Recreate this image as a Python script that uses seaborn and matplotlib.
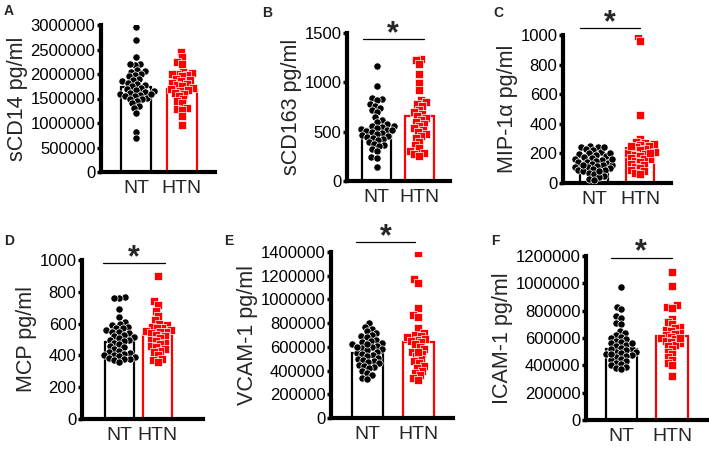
import numpy as np
import pandas as pd
import matplotlib
matplotlib.use("Agg")
import matplotlib.pyplot as plt
import seaborn as sns

sns.set_style("white")
plt.rcParams['font.family'] = ['Liberation Sans', 'DejaVu Sans']

groups = ["NT", "HTN"]
RED = "#ff0000"

# ---------------- data ----------------
a_nt = [2960000, 2700000, 2350000, 2200000, 2180000, 2200000, 2080000, 2050000, 2060000, 2000000,
        1980000, 1950000, 1900000, 1880000, 1850000, 1820000, 1800000, 1780000, 1750000, 1720000,
        1700000, 1680000, 1650000, 1640000, 1620000, 1600000, 1580000, 1560000, 1550000, 1520000,
        1500000, 1480000, 1450000, 1400000, 1350000, 1300000, 1200000, 820000, 700000, 1600000]
a_htn = [2450000, 2350000, 2250000, 2200000, 2050000, 2020000, 2000000, 2000000, 1980000, 1950000,
         1900000, 1880000, 1850000, 1820000, 1800000, 1780000, 1750000, 1720000, 1700000, 1680000,
         1650000, 1620000, 1600000, 1550000, 1500000, 1450000, 1400000, 1300000, 1280000, 1270000,
         1150000, 950000]
a_mean = [1730000, 1690000]

b_nt = [1170, 960, 840, 830, 820, 780, 760, 740, 720, 700, 650, 620, 600, 580, 560, 560, 550, 540,
        530, 520, 520, 510, 500, 490, 480, 470, 460, 450, 440, 430, 420, 400, 380, 360, 350, 320,
        300, 240, 230, 145]
b_htn = [1240, 1230, 1190, 1080, 990, 920, 820, 800, 780, 760, 720, 700, 680, 660, 640, 620, 600,
         580, 560, 540, 520, 500, 480, 460, 440, 400, 360, 330, 300, 280, 270, 250]
b_mean = [528, 660]

c_nt = [250, 245, 240, 230, 220, 210, 200, 195, 190, 180, 175, 170, 160, 155, 150, 145, 140, 135,
        130, 125, 120, 115, 110, 105, 100, 95, 90, 85, 80, 70, 60, 50, 40, 30, 20, 240, 200, 160,
        120, 80]
c_htn = [990, 960, 460, 300, 280, 270, 265, 260, 250, 240, 230, 220, 210, 200, 195, 190, 180, 170,
         165, 160, 150, 140, 130, 120, 110, 100, 90, 80, 70, 60, 250, 200]
c_mean = [138, 235]

d_nt = [770, 760, 760, 690, 640, 610, 600, 590, 580, 575, 570, 560, 550, 545, 540, 530, 520, 515,
        510, 500, 495, 490, 480, 470, 460, 450, 440, 430, 420, 415, 410, 405, 400, 395, 390, 385,
        380, 375, 370, 360]
d_htn = [900, 740, 720, 680, 650, 620, 600, 590, 580, 575, 570, 560, 555, 550, 545, 540, 530, 520,
         510, 500, 490, 480, 470, 460, 450, 440, 430, 420, 400, 380, 370, 360]
d_mean = [486, 535]

e_nt = [800000, 770000, 750000, 730000, 720000, 700000, 690000, 680000, 660000, 650000, 640000,
        630000, 620000, 610000, 600000, 590000, 580000, 570000, 560000, 550000, 540000, 530000,
        520000, 510000, 500000, 490000, 480000, 470000, 460000, 450000, 440000, 430000, 420000,
        400000, 380000, 360000, 340000, 330000, 600000, 620000]
e_htn = [1390000, 1170000, 1140000, 930000, 870000, 850000, 760000, 720000, 700000, 690000, 680000,
         670000, 660000, 650000, 640000, 620000, 600000, 580000, 560000, 540000, 520000, 500000,
         480000, 460000, 440000, 420000, 400000, 380000, 360000, 340000, 320000, 560000]
e_mean = [546000, 639000]

f_nt = [970000, 830000, 810000, 760000, 750000, 710000, 700000, 650000, 640000, 620000, 610000,
        600000, 590000, 580000, 570000, 560000, 550000, 540000, 530000, 520000, 510000, 500000,
        495000, 490000, 480000, 475000, 470000, 460000, 450000, 440000, 430000, 420000, 410000,
        400000, 390000, 380000, 370000, 560000, 520000, 480000]
f_htn = [1080000, 980000, 840000, 830000, 820000, 740000, 720000, 700000, 680000, 670000, 660000,
         650000, 640000, 630000, 620000, 610000, 600000, 590000, 580000, 570000, 560000, 550000,
         540000, 520000, 500000, 480000, 460000, 440000, 420000, 400000, 320000, 600000]
f_mean = [522000, 612000]

ylabels = ["sCD14 pg/ml", "sCD163 pg/ml", "MIP-1\u03b1 pg/ml", "MCP pg/ml", "VCAM-1 pg/ml", "ICAM-1 pg/ml"]
ymax = [3000000, 1500, 1000, 1000, 1400000, 1200000]
ystep = [500000, 500, 200, 200, 200000, 200000]
letters = ["A", "B", "C", "D", "E", "F"]
significant = [False, True, True, True, True, True]

panels = [(a_nt, a_htn, a_mean), (b_nt, b_htn, b_mean), (c_nt, c_htn, c_mean),
          (d_nt, d_htn, d_mean), (e_nt, e_htn, e_mean), (f_nt, f_htn, f_mean)]

# ---------------- layout (pixels) ----------------
W, H = 709, 454
boxes = [(101, 25, 215, 172), (347, 33, 450, 181), (563, 35, 671, 183),
         (82, 260, 203, 419), (331, 252, 453, 418), (586, 256, 708, 420)]
xlims = [(-0.76, 1.72), (-0.70, 1.72), (-0.67, 1.67), (-0.97, 2.17), (-0.72, 1.69), (-0.70, 1.71)]
bar_w = [0.65, 0.68, 0.61, 0.75, 0.61, 0.62]
sig_x = [None, (-0.33, 1.10), (-0.30, 1.00), (-0.43, 1.18), (-0.23, 0.94), (-0.21, 0.99)]
sig_y = [None, 0.959, 1.047, 0.981, 1.06, 0.988]  # fraction of axes height
letter_pos = [(4, 11), (262, 13), (493, 13), (4, 241), (224, 241), (491, 241)]

LAYOUT_SIZE = 3.3   # marker size used for the swarm layout (overlapping like the reference)
DOT_SIZE = 5.2      # final displayed marker diameter (points)

fig = plt.figure(figsize=(W / 100, H / 100), dpi=100)
swarm_colls = []

for i, (nt, htn, mean) in enumerate(panels):
    l, t, r, b = boxes[i]
    ax = fig.add_axes([l / W, 1 - b / H, (r - l) / W, (b - t) / H])
    mdf = pd.DataFrame({"group": groups, "value": mean})
    sns.barplot(data=mdf, x="group", y="value", hue="group", order=groups, hue_order=groups,
                palette={"NT": "black", "HTN": RED}, fill=False, width=bar_w[i],
                linewidth=1.6, errorbar=None, legend=False, ax=ax, zorder=1)
    n0 = len(ax.collections)
    sns.swarmplot(x=["NT"] * len(nt), y=nt, order=groups, color="black", marker="o",
                  size=LAYOUT_SIZE, edgecolor="white", linewidth=0.5, ax=ax, zorder=3, warn_thresh=1)
    sns.swarmplot(x=["HTN"] * len(htn), y=htn, order=groups, color=RED, marker="s",
                  size=LAYOUT_SIZE * 0.95, edgecolor="white", linewidth=0.5, ax=ax, zorder=3, warn_thresh=1)
    swarm_colls.extend(ax.collections[n0:])
    ax.set_xlim(*xlims[i])
    ax.set_ylim(0, ymax[i])
    ax.set_yticks(np.arange(0, ymax[i] + 1, ystep[i]))
    ax.yaxis.set_major_formatter(matplotlib.ticker.FuncFormatter(lambda v, p: f"{int(round(v))}"))
    ax.set_xlabel("")
    ax.set_ylabel(ylabels[i], fontsize=15.5, labelpad=2)
    for s in ["top", "right"]:
        ax.spines[s].set_visible(False)
    for s in ["left", "bottom"]:
        ax.spines[s].set_linewidth(3)
        ax.spines[s].set_color("black")
    ax.tick_params(axis="y", which="major", length=3, width=2.5, pad=1, labelsize=12,
                   direction="out", left=True, colors="black")
    ax.tick_params(axis="x", length=0, labelsize=14, pad=6)
    ax.set_facecolor("none")
    if significant[i]:
        x0, x1 = sig_x[i]
        yy = sig_y[i] * ymax[i]
        ax.plot([x0, x1], [yy, yy], color="black", lw=0.9, clip_on=False)
        ax.annotate("*", xy=((x0 + x1) / 2, yy), xytext=(0, -2), textcoords="offset points",
                    ha="center", va="baseline", fontsize=22, fontweight="bold",
                    annotation_clip=False)
    lx, ly = letter_pos[i]
    fig.text(lx / W, 1 - ly / H, letters[i], fontsize=10, fontweight="bold", va="center", ha="left")

# compute the swarm layout with the small markers, then freeze it and enlarge the markers
fig.canvas.draw()
for coll in swarm_colls:
    offs = np.array(coll.get_offsets())
    if "draw" in coll.__dict__:
        del coll.draw
    coll.set_offsets(offs)
    coll.set_sizes([DOT_SIZE ** 2])

fig.savefig("out.png", dpi=100)
